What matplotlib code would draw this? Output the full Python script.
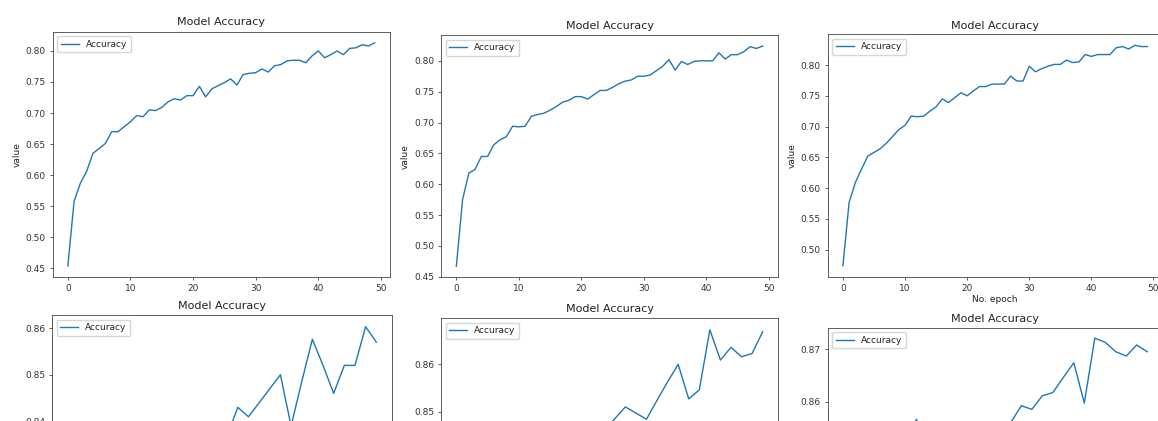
import numpy as np
import matplotlib
matplotlib.use("Agg")
import matplotlib.pyplot as plt
from matplotlib.ticker import MultipleLocator

# accuracy per epoch, top row (50 epochs)
acc_1 = [0.454, 0.558, 0.587, 0.606, 0.635, 0.643, 0.651, 0.670, 0.670, 0.678,
         0.686, 0.696, 0.694, 0.705, 0.704, 0.709, 0.718, 0.723, 0.721, 0.728,
         0.728, 0.743, 0.726, 0.739, 0.744, 0.749, 0.755, 0.745, 0.762, 0.764,
         0.765, 0.771, 0.766, 0.776, 0.778, 0.784, 0.785, 0.785, 0.781, 0.792,
         0.800, 0.789, 0.794, 0.800, 0.794, 0.804, 0.805, 0.810, 0.808, 0.813]
acc_2 = [0.467, 0.575, 0.618, 0.624, 0.645, 0.645, 0.664, 0.672, 0.677, 0.694,
         0.693, 0.694, 0.710, 0.713, 0.715, 0.720, 0.726, 0.733, 0.736, 0.742,
         0.742, 0.738, 0.745, 0.752, 0.752, 0.757, 0.763, 0.767, 0.769, 0.775,
         0.775, 0.777, 0.784, 0.791, 0.802, 0.785, 0.799, 0.794, 0.799, 0.800,
         0.800, 0.800, 0.813, 0.803, 0.810, 0.810, 0.815, 0.823, 0.820, 0.824]
acc_3 = [0.474, 0.577, 0.609, 0.631, 0.652, 0.658, 0.664, 0.673, 0.684, 0.695,
         0.702, 0.717, 0.716, 0.717, 0.725, 0.732, 0.745, 0.739, 0.747, 0.755,
         0.750, 0.758, 0.765, 0.765, 0.769, 0.769, 0.769, 0.782, 0.774, 0.774,
         0.798, 0.789, 0.794, 0.798, 0.801, 0.801, 0.808, 0.804, 0.805, 0.817,
         0.814, 0.817, 0.817, 0.817, 0.828, 0.830, 0.826, 0.832, 0.830, 0.830]

# bottom row (30 epochs), lower part is cut off in the picture
acc_4 = [0.810, 0.815, 0.818, 0.821, 0.820, 0.824, 0.826, 0.825, 0.828, 0.830,
         0.829, 0.832, 0.834, 0.833, 0.836, 0.837, 0.843, 0.841, 0.844, 0.847,
         0.850, 0.839, 0.8485, 0.8576, 0.852, 0.846, 0.852, 0.852, 0.8603, 0.857]
acc_5 = [0.8185, 0.822, 0.826, 0.828, 0.831, 0.833, 0.835, 0.834, 0.837, 0.839,
         0.840, 0.842, 0.841, 0.844, 0.846, 0.8485, 0.851, 0.8497, 0.8484, 0.8524,
         0.8563, 0.860, 0.8527, 0.8546, 0.8673, 0.8609, 0.8636, 0.8616, 0.8623, 0.8669]
acc_6 = [0.832, 0.838, 0.842, 0.845, 0.848, 0.850, 0.851, 0.8566, 0.852, 0.853,
         0.854, 0.853, 0.855, 0.854, 0.855, 0.8555, 0.856, 0.8592, 0.8585, 0.8611,
         0.8617, 0.8646, 0.8674, 0.8597, 0.8721, 0.8713, 0.8695, 0.8687, 0.8708, 0.8695]

W, H = 1158, 421

plt.rcParams['text.color'] = '#222222'
plt.rcParams['axes.labelcolor'] = '#222222'
plt.rcParams['xtick.color'] = '#333333'
plt.rcParams['ytick.color'] = '#333333'

fig = plt.figure(figsize=(W / 100, H / 100), dpi=100)


def px_axes(left, top, right, bottom):
    # axes box given in pixel coords (y from the top)
    return fig.add_axes([left / W, 1 - bottom / H, (right - left) / W, (bottom - top) / H])


# data, box (px), title pad, x label, y limits (None = auto)
panels = [
    (acc_1, (52.5, 31.7, 390, 277), 5, False, None),
    (acc_2, (441, 35, 778, 277.3), 4, False, None),
    (acc_3, (827.7, 34.3, 1162.5, 276.7), 4, True, None),
    (acc_4, (52, 315, 391.7, 560), 4, False, (0.8103, 0.8628)),
    (acc_5, (441, 318, 778, 563), 4, False, (0.8180, 0.8698)),
    (acc_6, (827.7, 327.7, 1162.5, 572.7), 4, False, (0.8273, 0.8741)),
]

for acc, box, tpad, xlab, ylim in panels:
    ax = px_axes(*box)
    ax.plot(range(len(acc)), acc, color='#1f77b4', lw=1.0, label='Accuracy')
    ax.set_title('Model Accuracy', fontsize=8, pad=tpad)
    ax.set_ylabel('value', fontsize=6.5, labelpad=3)
    if xlab:
        ax.set_xlabel('No. epoch', fontsize=6.5, labelpad=2)
    if ylim is not None:
        ax.set_ylim(*ylim)
        ax.yaxis.set_major_locator(MultipleLocator(0.01))
    ax.tick_params(labelsize=6.5, length=2.5, width=0.55, pad=2.5)
    for sp in ax.spines.values():
        sp.set_linewidth(0.6)
        sp.set_color('#444444')
    ax.legend(loc='upper left', fontsize=6.5, handlelength=2.0, borderpad=0.4)

fig.savefig('out.png', dpi=100)
